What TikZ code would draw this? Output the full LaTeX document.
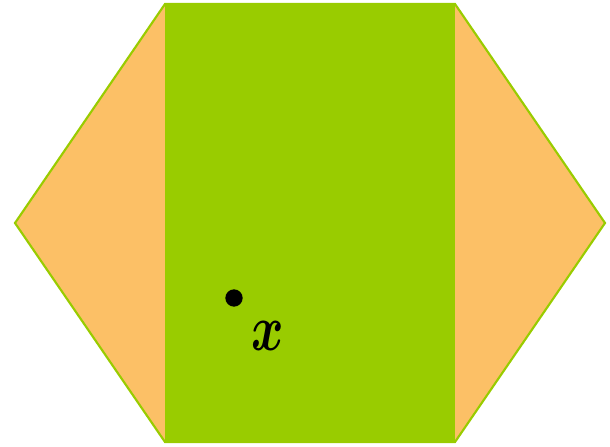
\documentclass[tikz,border=0pt]{standalone}
\usepackage{fontspec}
\usepackage{bm}
\definecolor{leafgreen}{HTML}{99CC00}
\definecolor{paleorange}{HTML}{FCC066}
\tikzset{
  side/.style={fill=paleorange, draw=leafgreen, line width=1.6pt, line join=miter},
  band/.style={fill=leafgreen, draw=none},
  pointdot/.style={circle, fill=black, inner sep=0pt, minimum size=13pt}
}
\begin{document}
\begin{tikzpicture}[x=0.75pt, y=-0.75pt]
  \useasboundingbox (0,0) rectangle (610,446);
  % corners of the hexagon
  \coordinate (l)  at (15,223);
  \coordinate (tl) at (165,4);
  \coordinate (tr) at (455,4);
  \coordinate (r)  at (605,223);
  \coordinate (br) at (455,442);
  \coordinate (bl) at (165,442);
  \draw[side] (l) -- (tl) -- (tr) -- (r) -- (br) -- (bl) -- cycle;
  \fill[band] (tl) rectangle (br);
  \node (p) [pointdot] at (234,298) {};
  \node (xl) [xscale=3.7, yscale=4.9, inner sep=0pt] at (268,336) {$\bm{x}$};
\end{tikzpicture}
\end{document}
